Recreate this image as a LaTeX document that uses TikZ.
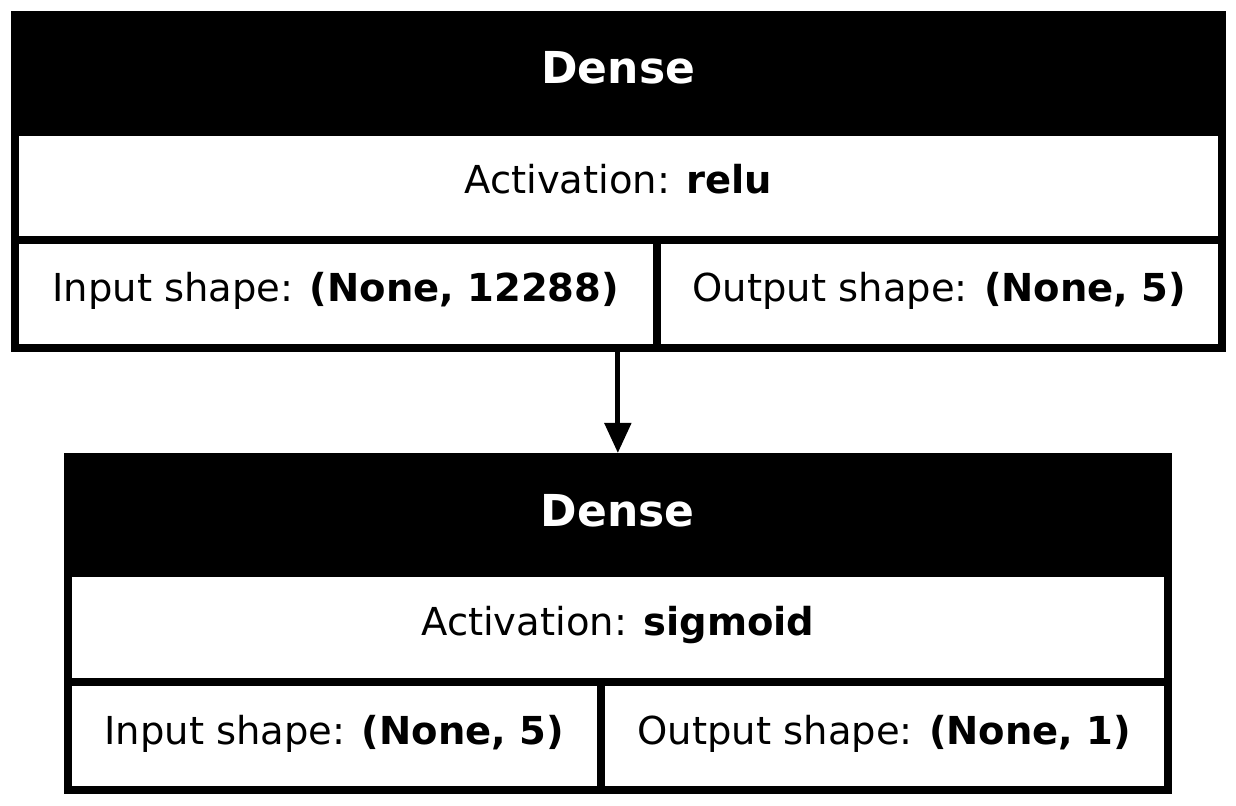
\documentclass[tikz,border=0pt]{standalone}
\usepackage{fontspec}
\setmainfont{DejaVu Sans}
\usetikzlibrary{arrows.meta,positioning}
\tikzset{
    header/.style={
    rectangle,draw=black,fill=black,text=white,line width=4pt,inner sep=0pt,
    font=\fontsize{22}{26}\selectfont\bfseries,text height=16pt,text depth=1.5pt
    },
    cell/.style={
    rectangle,draw=black,fill=white,line width=4pt,inner sep=0pt,
    font=\fontsize{19.25}{23}\selectfont,text height=14pt,text depth=6pt
    },
    flow/.style={
    line width=2.5pt,-{Triangle[width=13pt,length=15pt]}
    },
}
\begin{document}
\begin{tikzpicture}[x=0.5pt, y=-0.5pt]
   \useasboundingbox[fill=white] (0,0) rectangle (1236,806);
   % first layer
   \node[header, minimum width=603.75pt, minimum height=54.5pt] (head1) at (618.25,69.5) {Dense};
   \node[cell, minimum width=603.75pt, minimum height=54pt] (act1) at (618.25,186) {Activation: \textbf{relu}};
   \node[cell, minimum width=321.25pt, minimum height=54pt] (in1) at (335.75,294) {Input shape: \textbf{(None, 12288)}};
   \node[cell, minimum width=282.5pt, minimum height=54pt] (out1) at (939.5,294) {Output shape: \textbf{(None, 5)}};
   % second layer
   \node[header, minimum width=550.15pt, minimum height=54.5pt] (head2) at (617.85,511.5) {Dense};
   \node[cell, minimum width=550.15pt, minimum height=54.5pt] (act2) at (617.85,627.5) {Activation: \textbf{sigmoid}};
   \node[cell, minimum width=266.65pt, minimum height=54pt] (in2) at (334.35,736) {Input shape: \textbf{(None, 5)}};
   \node[cell, minimum width=283.5pt, minimum height=54pt] (out2) at (884.5,736) {Output shape: \textbf{(None, 1)}};

  \path[flow]
    (in1.south -| head2.north) edge node {} (head2.north);
  \end{tikzpicture}
\end{document}
